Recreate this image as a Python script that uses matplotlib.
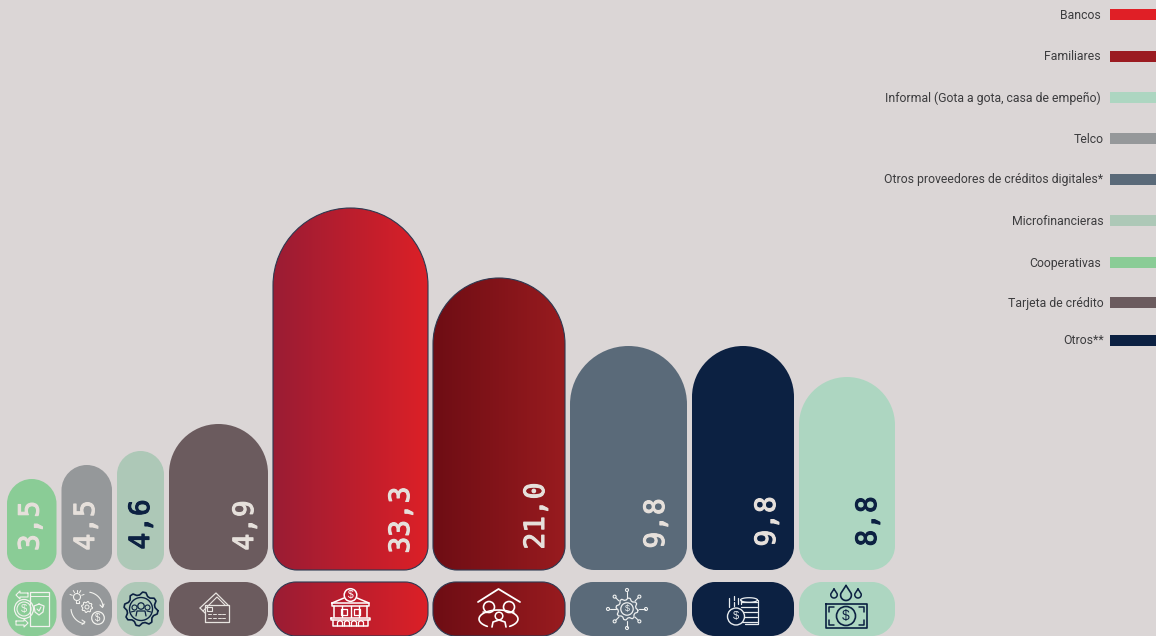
import numpy as np
import matplotlib
matplotlib.use("Agg")
import matplotlib.pyplot as plt
import matplotlib.patheffects as pe
from matplotlib.path import Path
from matplotlib.patches import PathPatch, Circle, Rectangle

# bars, left to right
categories = ["Cooperativas", "Telco", "Microfinancieras", "Tarjeta de crédito", "Bancos",
              "Familiares", "Otros proveedores de créditos digitales*", "Otros**",
              "Informal (Gota a gota, casa de empeño)"]
values = [3.5, 4.5, 4.6, 4.9, 33.3, 21.0, 9.8, 9.8, 8.8]
# the shapes are not to scale with the labels, so height is read separately
bar_heights = [91, 105, 119, 146, 362, 292, 224, 224, 193]
bar_widths = [49.5, 50.5, 47, 99, 155, 132, 117, 102, 96]
label_inset = [26, 26, 23, 23, 27, 29, 31, 27, 27]
label_bottom = [551, 550.5, 549.5, 550.5, 553.5, 549.5, 548.5, 546.5, 546.5]

# legend, top to bottom
legend_names = ["Bancos", "Familiares", "Informal (Gota a gota, casa de empeño)", "Telco",
                "Otros proveedores de créditos digitales*", "Microfinancieras",
                "Cooperativas", "Tarjeta de crédito", "Otros**"]
legend_colors = ["#E01F26", "#9B1B21", "#ADD6C1", "#95989A", "#5A6A79",
                 "#ADC8B7", "#8ACC96", "#6B5B5E", "#0C2142"]
legend_y = [14.5, 56, 97, 138.5, 179, 220.5, 262, 302, 340]
legend_right = [1101, 1101, 1101, 1104, 1103, 1104, 1101, 1104, 1104]

bar_colors = {n: c for n, c in zip(legend_names, legend_colors)}
gradients = {"Bancos": ("#9A1C34", "#DC2027"), "Familiares": ("#6E0D14", "#981B1F")}
dark_text = ["Microfinancieras", "Informal (Gota a gota, casa de empeño)"]

BG = "#DBD6D6"
BASE = 570
TILE_TOP, TILE_BOTTOM = 582, 636
K = 0.5523


def rounded(x0, x1, y0, y1, rt, rb):
    c = K
    v = [(x0 + rt, y0), (x1 - rt, y0),
         (x1 - rt + c * rt, y0), (x1, y0 + rt - c * rt), (x1, y0 + rt),
         (x1, y1 - rb),
         (x1, y1 - rb + c * rb), (x1 - rb + c * rb, y1), (x1 - rb, y1),
         (x0 + rb, y1),
         (x0 + rb - c * rb, y1), (x0, y1 - rb + c * rb), (x0, y1 - rb),
         (x0, y0 + rt),
         (x0, y0 + rt - c * rt), (x0 + rt - c * rt, y0), (x0 + rt, y0),
         (x0 + rt, y0)]
    m = [Path.MOVETO, Path.LINETO, Path.CURVE4, Path.CURVE4, Path.CURVE4, Path.LINETO,
         Path.CURVE4, Path.CURVE4, Path.CURVE4, Path.LINETO, Path.CURVE4, Path.CURVE4,
         Path.CURVE4, Path.LINETO, Path.CURVE4, Path.CURVE4, Path.CURVE4, Path.CLOSEPOLY]
    return Path(v, m)


def fill_shape(ax, path, name, x0, x1, y0, y1):
    if name in gradients:
        c0, c1 = [np.array(matplotlib.colors.to_rgb(c)) for c in gradients[name]]
        t = np.linspace(0, 1, 256)[None, :, None]
        img = ax.imshow(c0 + (c1 - c0) * t, extent=(x0, x1, y1, y0), aspect="auto", zorder=2)
        outline = PathPatch(path, fc="none", ec="#2E3850", lw=0.8, zorder=3)
        ax.add_patch(outline)
        img.set_clip_path(PathPatch(path, transform=ax.transData))
    else:
        ax.add_patch(PathPatch(path, fc=bar_colors[name], ec="none", zorder=2))


def line(ax, pts, c, lw=1.0):
    xs, ys = zip(*pts)
    ax.plot(xs, ys, color=c, lw=lw, solid_capstyle="round", solid_joinstyle="round", zorder=5)


def ring(ax, x, y, r, c, lw=1.0):
    ax.add_patch(Circle((x, y), r, fc="none", ec=c, lw=lw, zorder=5))


def dollar(ax, x, y, c, size=8):
    ax.text(x, y, "$", color=c, fontsize=size, ha="center", va="center", zorder=6,
            family="Liberation Sans")


def gear(ax, x, y, r, c, teeth=8, lw=1.0, depth=0.2):
    a = np.linspace(0, 2 * np.pi, teeth * 4 + 1) + np.pi / (teeth * 4)
    rr = np.tile([r, r, r * (1 - depth), r * (1 - depth)], teeth + 1)[:len(a)]
    line(ax, list(zip(x + rr * np.cos(a), y + rr * np.sin(a))), c, lw)


def icon_coop(ax, c="#F2F2EE"):
    line(ax, [(30, 592), (49, 592), (49, 626), (30, 626), (30, 592)], c, 0.9)
    line(ax, [(30, 596), (49, 596)], c, 0.7)
    ax.add_patch(Circle((24, 609), 9.5, fc="#8ACC96", ec=c, lw=0.9, zorder=4.5))
    ring(ax, 24, 609, 7, c, 0.8)
    dollar(ax, 24, 609, c, 8)
    line(ax, [(39, 604), (44, 606), (43, 612), (39, 615), (35, 612), (34, 606), (39, 604)], c, 0.9)
    line(ax, [(37, 609), (39, 611), (41, 607)], c, 0.8)
    line(ax, [(28, 593), (28, 597), (20, 597), (20, 599), (16, 595), (20, 591), (20, 593), (28, 593)], c, 0.8)
    line(ax, [(16, 621), (16, 625), (24, 625), (24, 627), (28, 623), (24, 619), (24, 621), (16, 621)], c, 0.8)


def icon_telco(ax, c="#F2F2EE"):
    ring(ax, 77, 597, 3.5, c, 0.8)
    line(ax, [(75.5, 600.5), (75.5, 603), (78.5, 603), (78.5, 600.5)], c, 0.8)
    for a in np.radians([-160, -120, -90, -60, -20]):
        line(ax, [(77 + 5 * np.cos(a), 597 + 5 * np.sin(a)), (77 + 7.5 * np.cos(a), 597 + 7.5 * np.sin(a))], c, 0.7)
    gear(ax, 87, 607, 5.5, c, 8, 0.8)
    ring(ax, 87, 607, 2, c, 0.7)
    ring(ax, 98, 618, 6.3, c, 0.9)
    dollar(ax, 98, 618, c, 7)
    a = np.radians(np.linspace(-80, -5, 20))
    line(ax, list(zip(87 + 16 * np.cos(a), 608 + 16 * np.sin(a))), c, 0.8)
    line(ax, [(100, 605), (102.5, 607.5), (104, 604)], c, 0.8)
    a = np.radians(np.linspace(100, 175, 20))
    line(ax, list(zip(87 + 16 * np.cos(a), 608 + 16 * np.sin(a))), c, 0.8)
    line(ax, [(82, 620), (85, 622), (82, 624.5)], c, 0.8)


def icon_micro(ax, c="#0C2142"):
    gear(ax, 141, 609, 17, c, 8, 1.2, 0.17)
    ring(ax, 141, 609, 11.5, c, 1.0)
    ring(ax, 141, 606, 3.2, c, 0.9)
    ring(ax, 134.5, 607.5, 2.5, c, 0.8)
    ring(ax, 147.5, 607.5, 2.5, c, 0.8)
    line(ax, [(136, 616), (137, 611), (145, 611), (146, 616)], c, 0.9)
    line(ax, [(131, 612), (135, 611)], c, 0.8)
    line(ax, [(151, 612), (147, 611)], c, 0.8)


def icon_card(ax, c="#E8E4E0"):
    line(ax, [(205, 622), (229, 622), (229, 605), (205, 605), (205, 622)], c, 0.9)
    line(ax, [(200, 608), (216, 593), (228, 605)], c, 0.9)
    line(ax, [(203, 611), (217, 597), (225, 605)], c, 0.8)
    line(ax, [(200, 608), (205, 613)], c, 0.9)
    line(ax, [(207, 607), (212, 607), (212, 611), (207, 611), (207, 607)], c, 0.8)
    for y in (614, 618):
        for x0 in (208, 213, 218, 222):
            line(ax, [(x0, y), (x0 + 3, y)], c, 0.7)


def icon_bank(ax, c="#FFFFFF"):
    ring(ax, 350.5, 595, 6.3, c, 1.1)
    dollar(ax, 350.5, 595, c, 7.5)
    line(ax, [(332, 603), (344, 598)], c, 1.1)
    line(ax, [(357, 598), (369, 603)], c, 1.1)
    line(ax, [(332, 603), (369, 603), (369, 606), (332, 606), (332, 603)], c, 1.1)
    line(ax, [(334, 606), (334, 617)], c, 1.1)
    line(ax, [(367, 606), (367, 617)], c, 1.1)
    line(ax, [(342, 606), (342, 617)], c, 1.0)
    line(ax, [(350.5, 606), (350.5, 617)], c, 1.0)
    line(ax, [(359, 606), (359, 617)], c, 1.0)
    for x0 in (340.5, 354):
        line(ax, [(x0 + 0, 609), (x0 + 6, 609), (x0 + 6, 615), (x0, 615), (x0, 609)], c, 0.9)
    line(ax, [(331, 618), (370, 618), (370, 620), (331, 620), (331, 618)], c, 1.1)
    line(ax, [(333, 620), (333, 626), (368, 626), (368, 620)], c, 1.1)
    for x0 in (340, 347, 354, 361):
        line(ax, [(x0 - 2.5, 626), (x0 - 2.5, 622), (x0, 620.5), (x0 + 2.5, 622), (x0 + 2.5, 626)], c, 0.9)


def icon_family(ax, c="#FFFFFF"):
    line(ax, [(478, 602), (498.5, 589), (520, 602)], c, 1.3)
    ring(ax, 489, 607, 5.5, c, 1.2)
    ring(ax, 509, 607, 5.5, c, 1.2)
    ring(ax, 499, 616, 3.8, c, 1.1)
    a = np.radians(np.linspace(125, 415, 40))
    line(ax, list(zip(498.5 + 19.5 * np.cos(a), 619 + 9 * np.sin(a))), c, 1.2)
    line(ax, [(483, 612), (487, 612.5)], c, 1.1)
    line(ax, [(514, 612), (510, 612.5)], c, 1.1)
    line(ax, [(492, 627), (493, 622), (499, 620), (505, 622), (506, 627)], c, 1.2)


def icon_digital(ax, c="#EEF0F0"):
    cx, cy = 627, 609
    gear(ax, cx, cy, 11, c, 8, 0.9, 0.18)
    ring(ax, cx, cy, 6.2, c, 0.9)
    dollar(ax, cx, cy, c, 6.5)
    for k, a in enumerate(np.radians(np.arange(0, 360, 45))):
        rr = 16 if k % 2 else 17.5
        line(ax, [(cx + 11.5 * np.cos(a), cy + 11.5 * np.sin(a)), (cx + rr * np.cos(a), cy + rr * np.sin(a))], c, 0.8)
        ring(ax, cx + (rr + 1.5) * np.cos(a), cy + (rr + 1.5) * np.sin(a), 1.5, c, 0.8)


def icon_coins(ax, c="#E8ECEF"):
    for y in (602, 607, 612, 617, 622):
        line(ax, [(741, y), (757, y)], c, 0.9)
    a = np.radians(np.linspace(0, 360, 30))
    line(ax, list(zip(749 + 8.5 * np.cos(a), 600 + 2.3 * np.sin(a))), c, 0.9)
    line(ax, [(757.5, 600), (757.5, 624), (745, 624)], c, 0.9)
    line(ax, [(740.5, 600), (740.5, 604)], c, 0.9)
    ax.add_patch(Circle((736, 616.5), 8.5, fc="#0C2142", ec=c, lw=1.0, zorder=5.5))
    dollar(ax, 736, 616.5, c, 8)
    for x0, y0, y1 in ((729, 598, 607), (733.5, 596, 600), (733.5, 602, 606), (738, 598, 604)):
        line(ax, [(x0, y0), (x0, y1)], c, 0.9)


def drop(ax, x, y, h, c, lw=1.2):
    w = h * 0.36
    a = np.radians(np.linspace(-20, 200, 24))
    r = w
    pts = [(x, y - h / 2)] + list(zip(x + r * np.cos(a), y + h / 2 - r + r * np.sin(a))) + [(x, y - h / 2)]
    line(ax, pts, c, lw)


def icon_cash(ax, c="#0C2142"):
    drop(ax, 834, 593.5, 9, c, 1.1)
    drop(ax, 846, 593, 15, c, 1.2)
    drop(ax, 858, 593.5, 9, c, 1.1)
    line(ax, [(826, 604), (867, 604), (867, 628), (826, 628), (826, 604)], c, 1.2)
    ring(ax, 846, 616, 9.5, c, 1.2)
    dollar(ax, 846, 616, c, 10)
    for sx, sy in ((829, 607), (864, 607), (829, 625), (864, 625)):
        dx = 5 if sx < 846 else -5
        dy = 5 if sy < 616 else -5
        line(ax, [(sx + dx, sy), (sx, sy), (sx, sy + dy)], c, 1.1)


icons = [icon_coop, icon_telco, icon_micro, icon_card, icon_bank,
         icon_family, icon_digital, icon_coins, icon_cash]

fig = plt.figure(figsize=(11.56, 6.36), dpi=100, facecolor=BG)
ax = fig.add_axes([0, 0, 1, 1])
ax.set_xlim(0, 1156)
ax.set_ylim(636, 0)
ax.axis("off")

lefts = 7 + np.cumsum([0] + [w + 5 for w in bar_widths[:-1]])
for i, name in enumerate(categories):
    x0, w, h = lefts[i], bar_widths[i], bar_heights[i]
    x1 = x0 + w
    top = BASE - h
    fill_shape(ax, rounded(x0, x1, top, BASE, w / 2, min(w * 0.36, 24)), name, x0, x1, top, BASE)
    fill_shape(ax, rounded(x0, x1, TILE_TOP, TILE_BOTTOM, min(w * 0.42, 23), min(w * 0.42, 23)),
               name, x0, x1, TILE_TOP, TILE_BOTTOM)
    tc = "#0C2142" if name in dark_text else "#E6E0DB"
    txt = ax.text(x1 - label_inset[i], label_bottom[i], f"{values[i]:.1f}".replace(".", ","), rotation=90,
                  ha="center", va="bottom", color=tc, fontsize=20, family="DejaVu Sans Mono", zorder=4)
    txt.set_path_effects([pe.withStroke(linewidth=0.8, foreground=tc)])
    icons[i](ax)

for name, col, y, r in zip(legend_names, legend_colors, legend_y, legend_right):
    ax.add_patch(Rectangle((1110, y - 5.5), 46, 11, fc=col, ec="none", zorder=2))
    ax.text(r, y + 1, name, ha="right", va="center", color="#3C3C3E", fontsize=8.8, family="Roboto")

ax.set_xlim(0, 1156)
ax.set_ylim(636, 0)
fig.savefig("out.png", dpi=100, facecolor=BG)
